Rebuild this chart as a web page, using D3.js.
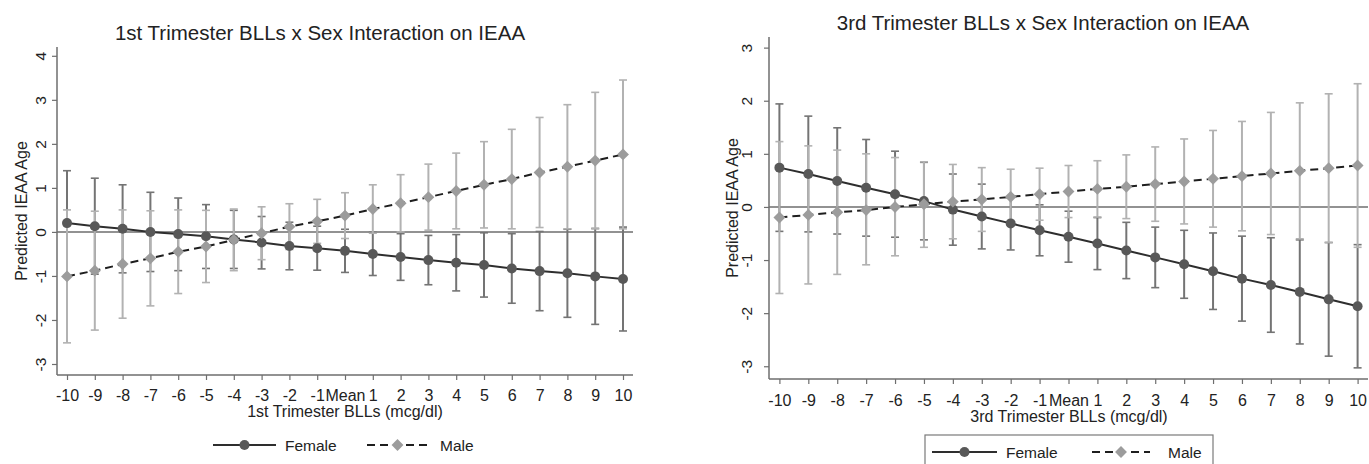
<!DOCTYPE html>
<html>
<head>
<meta charset="utf-8">
<script src="https://cdn.jsdelivr.net/npm/d3@7"></script>
<style>
  html, body { margin: 0; padding: 0; background: #fff; }
  svg { display: block; font-family: "Liberation Sans", Arial, sans-serif; }
</style>
</head>
<body>
<div id="chart"></div>
<script>
// BLL positions relative to the mean (0 = "Mean")
const bll = [-10, -9, -8, -7, -6, -5, -4, -3, -2, -1, 0, 1, 2, 3, 4, 5, 6, 7, 8, 9, 10];
const bllLabels = ['-10', '-9', '-8', '-7', '-6', '-5', '-4', '-3', '-2', '-1', 'Mean',
                   '1', '2', '3', '4', '5', '6', '7', '8', '9', '10'];

// 1st trimester
const t1FemaleEst = [0.20, 0.13, 0.07, 0.00, -0.05, -0.10, -0.17, -0.24, -0.32, -0.37, -0.43, -0.50, -0.57, -0.64, -0.70, -0.75, -0.83, -0.89, -0.94, -1.01, -1.07];
const t1FemaleLo  = [-0.99, -0.96, -0.93, -0.90, -0.88, -0.83, -0.83, -0.84, -0.86, -0.87, -0.92, -0.99, -1.10, -1.20, -1.34, -1.48, -1.62, -1.79, -1.94, -2.10, -2.25];
const t1FemaleHi  = [1.39, 1.22, 1.07, 0.90, 0.77, 0.62, 0.49, 0.35, 0.22, 0.13, 0.06, -0.01, -0.04, -0.08, -0.06, -0.02, -0.04, 0.01, 0.06, 0.08, 0.11];
const t1MaleEst   = [-1.01, -0.88, -0.73, -0.60, -0.45, -0.33, -0.18, -0.03, 0.12, 0.24, 0.37, 0.52, 0.65, 0.79, 0.93, 1.07, 1.20, 1.35, 1.48, 1.62, 1.76];
const t1MaleLo    = [-2.52, -2.23, -1.96, -1.68, -1.40, -1.15, -0.88, -0.63, -0.40, -0.26, -0.15, -0.03, 0.00, 0.04, 0.07, 0.09, 0.07, 0.10, 0.07, 0.07, 0.07];
const t1MaleHi    = [0.50, 0.47, 0.50, 0.48, 0.50, 0.49, 0.52, 0.57, 0.64, 0.74, 0.89, 1.07, 1.30, 1.54, 1.79, 2.05, 2.33, 2.60, 2.89, 3.17, 3.45];

// 3rd trimester
const t3FemaleEst = [0.74, 0.62, 0.49, 0.36, 0.24, 0.11, -0.05, -0.18, -0.31, -0.44, -0.56, -0.69, -0.82, -0.95, -1.08, -1.21, -1.35, -1.47, -1.60, -1.74, -1.87];
const t3FemaleLo  = [-0.46, -0.47, -0.51, -0.55, -0.57, -0.62, -0.72, -0.79, -0.81, -0.92, -1.04, -1.18, -1.35, -1.52, -1.72, -1.93, -2.15, -2.36, -2.58, -2.81, -3.03];
const t3FemaleHi  = [1.94, 1.71, 1.49, 1.27, 1.05, 0.84, 0.62, 0.43, 0.19, 0.04, -0.08, -0.20, -0.29, -0.38, -0.44, -0.49, -0.55, -0.58, -0.62, -0.67, -0.71];
const t3MaleEst   = [-0.20, -0.15, -0.10, -0.06, 0.00, 0.05, 0.10, 0.14, 0.19, 0.24, 0.29, 0.34, 0.38, 0.43, 0.48, 0.53, 0.58, 0.63, 0.68, 0.73, 0.78];
const t3MaleLo    = [-1.63, -1.45, -1.27, -1.09, -0.92, -0.76, -0.60, -0.46, -0.33, -0.25, -0.20, -0.19, -0.22, -0.27, -0.32, -0.38, -0.45, -0.52, -0.60, -0.67, -0.76];
const t3MaleHi    = [1.23, 1.15, 1.07, 1.00, 0.93, 0.85, 0.80, 0.74, 0.71, 0.73, 0.78, 0.87, 0.98, 1.13, 1.28, 1.44, 1.61, 1.78, 1.96, 2.13, 2.32];

const t1YTicks = [-3, -2, -1, 0, 1, 2, 3, 4];
const t3YTicks = [-3, -2, -1, 0, 1, 2, 3];

const W = 1369, H = 464;
const FONT = '"Liberation Sans", Arial, sans-serif';
const AXIS = '#6e6e6e', TEXT = '#222';
const FEMALE_MARK = '#585858', FEMALE_CI = '#747474', FEMALE_LINE = '#2e2e2e';
const MALE_MARK = '#9c9c9c', MALE_CI = '#b2b2b2', MALE_LINE = '#1e1e1e';

const svg = d3.select('#chart').append('svg').attr('width', W).attr('height', H);

function series(est, lo, hi) {
    return bll.map((b, i) => ({ b, est: est[i], lo: lo[i], hi: hi[i] }));
}

function drawPanel(p) {
    const g = svg.append('g');
    const x = d3.scaleLinear().domain([-10.36, 10.36]).range([p.left, p.right]);
    const y = d3.scaleLinear().domain(p.yDomain).range([p.bottom, p.top]);

    // title
    g.append('text').attr('x', p.titleX).attr('y', p.titleY)
        .attr('text-anchor', 'middle').attr('font-size', '20.5px').attr('fill', TEXT)
        .text(p.title);

    // y axis
    const ya = g.append('g').attr('transform', `translate(${p.left},0)`)
        .call(d3.axisLeft(y).tickValues(p.yTicks).tickSize(5).tickFormat(d => String(d)));
    ya.select('.domain').attr('stroke', AXIS).attr('stroke-width', 1.5).attr('d', `M0,${p.top}V${p.bottom}`);
    ya.selectAll('.tick line').attr('stroke', AXIS).attr('stroke-width', 1.2);
    ya.selectAll('.tick text')
        .attr('font-size', '15.5px').attr('fill', TEXT).attr('font-family', FONT)
        .attr('x', null).attr('dy', null).attr('text-anchor', 'middle')
        .attr('transform', `translate(${p.yTickDx},0) rotate(-90)`);

    g.append('text')
        .attr('transform', `translate(${p.yTitleX},${(p.top + p.bottom) / 2}) rotate(-90)`)
        .attr('text-anchor', 'middle').attr('font-size', '16px').attr('fill', TEXT)
        .text('Predicted IEAA Age');

    // x axis
    const xa = g.append('g').attr('transform', `translate(0,${p.bottom})`)
        .call(d3.axisBottom(x).tickValues(bll).tickSize(5).tickFormat((d, i) => bllLabels[i]));
    xa.select('.domain').attr('stroke', AXIS).attr('stroke-width', 1.5).attr('d', `M${p.left},0H${p.right}`);
    xa.selectAll('.tick line').attr('stroke', AXIS).attr('stroke-width', 1.2);
    xa.selectAll('.tick text')
        .attr('font-size', '16px').attr('fill', TEXT).attr('font-family', FONT)
        .attr('y', p.xTickDy).attr('dy', null);

    g.append('text').attr('x', p.xTitleX).attr('y', p.xTitleY)
        .attr('text-anchor', 'middle').attr('font-size', '16px').attr('fill', TEXT)
        .text(p.xTitle);

    // reference line at 0
    g.append('line').attr('x1', p.left).attr('x2', p.right)
        .attr('y1', y(0)).attr('y2', y(0))
        .attr('stroke', AXIS).attr('stroke-width', 1.5);

    const female = series(p.fEst, p.fLo, p.fHi);
    const male = series(p.mEst, p.mLo, p.mHi);
    const cap = 4;

    function ciBars(data, color) {
        const cg = g.append('g').attr('stroke', color).attr('fill', 'none');
        cg.selectAll('line.v').data(data).enter().append('line')
            .attr('x1', d => x(d.b)).attr('x2', d => x(d.b))
            .attr('y1', d => y(d.lo)).attr('y2', d => y(d.hi))
            .attr('stroke-width', 2);
        cg.selectAll('line.lo').data(data).enter().append('line')
            .attr('x1', d => x(d.b) - cap).attr('x2', d => x(d.b) + cap)
            .attr('y1', d => y(d.lo)).attr('y2', d => y(d.lo)).attr('stroke-width', 1.6);
        cg.selectAll('line.hi').data(data).enter().append('line')
            .attr('x1', d => x(d.b) - cap).attr('x2', d => x(d.b) + cap)
            .attr('y1', d => y(d.hi)).attr('y2', d => y(d.hi)).attr('stroke-width', 1.6);
    }
    ciBars(female, FEMALE_CI);
    ciBars(male, MALE_CI);

    const line = d3.line().x(d => x(d.b)).y(d => y(d.est));

    g.append('path').datum(female).attr('d', line)
        .attr('fill', 'none').attr('stroke', FEMALE_LINE).attr('stroke-width', 2);
    g.selectAll('circle.f').data(female).enter().append('circle')
        .attr('cx', d => x(d.b)).attr('cy', d => y(d.est)).attr('r', 5)
        .attr('fill', FEMALE_MARK);

    g.append('path').datum(male).attr('d', line)
        .attr('fill', 'none').attr('stroke', MALE_LINE).attr('stroke-width', 2)
        .attr('stroke-dasharray', '8,5');
    const diamond = d3.symbol().type(d3.symbolDiamond2).size(90);
    g.selectAll('path.m').data(male).enter().append('path')
        .attr('d', diamond)
        .attr('transform', d => `translate(${x(d.b)},${y(d.est)})`)
        .attr('fill', MALE_MARK);

    // legend
    const L = p.legend;
    if (L.box) {
        g.append('rect').attr('x', L.box[0]).attr('y', L.box[1])
            .attr('width', L.box[2]).attr('height', L.box[3])
            .attr('fill', 'none').attr('stroke', '#7a7a7a').attr('stroke-width', 1.2);
    }
    g.append('line').attr('x1', L.f[0]).attr('x2', L.f[1]).attr('y1', L.y).attr('y2', L.y)
        .attr('stroke', FEMALE_LINE).attr('stroke-width', 2);
    g.append('circle').attr('cx', (L.f[0] + L.f[1]) / 2).attr('cy', L.y).attr('r', 5).attr('fill', FEMALE_MARK);
    g.append('text').attr('x', L.fText).attr('y', L.y + 6).attr('font-size', '15.5px').attr('fill', TEXT).text('Female');

    g.append('line').attr('x1', L.m[0]).attr('x2', L.m[1]).attr('y1', L.y).attr('y2', L.y)
        .attr('stroke', MALE_LINE).attr('stroke-width', 2).attr('stroke-dasharray', '8,5');
    g.append('path').attr('d', diamond)
        .attr('transform', `translate(${(L.m[0] + L.m[1]) / 2},${L.y})`).attr('fill', MALE_MARK);
    g.append('text').attr('x', L.mText).attr('y', L.y + 6).attr('font-size', '15.5px').attr('fill', TEXT).text('Male');
}

drawPanel({
    title: '1st Trimester BLLs x Sex Interaction on IEAA', titleX: 320, titleY: 40,
    xTitle: '1st Trimester BLLs (mcg/dl)', xTitleX: 345, xTitleY: 417,
    left: 57, right: 633, top: 47, bottom: 375,
    yDomain: [-3.25, 4.2], yTicks: t1YTicks, yTitleX: 27, yTickDx: -11, xTickDy: 26,
    fEst: t1FemaleEst, fLo: t1FemaleLo, fHi: t1FemaleHi,
    mEst: t1MaleEst, mLo: t1MaleLo, mHi: t1MaleHi,
    legend: { y: 445, f: [213, 276], fText: 285, m: [367, 428], mText: 440 }
});

drawPanel({
    title: '3rd Trimester BLLs x Sex Interaction on IEAA', titleX: 1043, titleY: 30,
    xTitle: '3rd Trimester BLLs (mcg/dl)', xTitleX: 1069, xTitleY: 422,
    left: 769, right: 1368, top: 37, bottom: 379,
    yDomain: [-3.24, 3.2], yTicks: t3YTicks, yTitleX: 738, yTickDx: -17, xTickDy: 27,
    fEst: t3FemaleEst, fLo: t3FemaleLo, fHi: t3FemaleHi,
    mEst: t3MaleEst, mLo: t3MaleLo, mHi: t3MaleHi,
    legend: { y: 452, box: [925, 435, 288, 40], f: [932, 997], fText: 1006, m: [1092, 1150], mText: 1168 }
});
</script>
</body>
</html>
